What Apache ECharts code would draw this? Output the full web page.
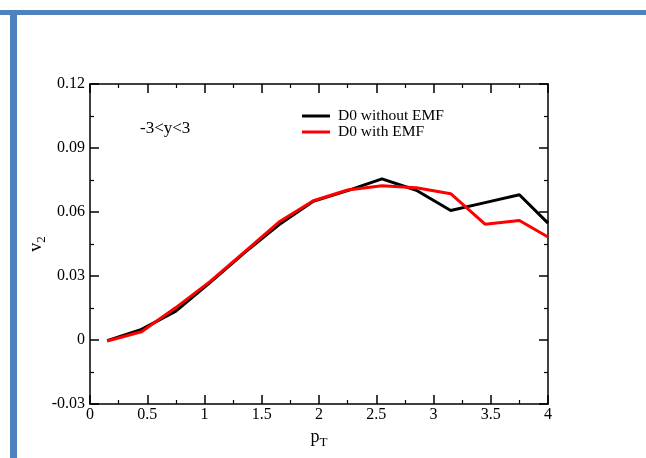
<!DOCTYPE html>
<html>
<head>
<meta charset="utf-8">
<script src="https://cdn.jsdelivr.net/npm/echarts@6/dist/echarts.min.js"></script>
<style>
  html, body { margin: 0; padding: 0; background: #ffffff; }
  #chart { width: 646px; height: 458px; }
</style>
</head>
<body>
<div id="chart"></div>
<script>
// Elliptic flow v2 of D0 versus transverse momentum
const pT = [0.15, 0.45, 0.75, 1.05, 1.35, 1.65, 1.95, 2.25, 2.55, 2.85, 3.15, 3.45, 3.75, 4.0];
const v2WithoutEMF = [-0.0003, 0.0050, 0.0135, 0.0270, 0.0410, 0.0540, 0.0650, 0.0700, 0.0755, 0.0702, 0.0607, 0.0644, 0.0681, 0.0548];
const v2WithEMF    = [-0.0005, 0.0039, 0.0152, 0.0275, 0.0413, 0.0553, 0.0653, 0.0703, 0.0723, 0.0714, 0.0686, 0.0543, 0.0560, 0.0483];
const xTicks = [0, 0.5, 1, 1.5, 2, 2.5, 3, 3.5, 4];
const yTicks = [-0.03, 0, 0.03, 0.06, 0.09, 0.12];
const seriesNames = ['D0 without EMF', 'D0 with EMF'];
const rapidityLabel = '-3<y<3';

const serif = '"Liberation Serif", "DejaVu Serif", serif';
const chart = echarts.init(document.getElementById('chart'), null, { renderer: 'canvas' });

function pairs(xs, ys) { return xs.map((x, i) => [x, ys[i]]); }

const tickStyle = { lineStyle: { color: '#000', width: 1.5 } };
const baseX = {
  type: 'value', min: xTicks[0], max: xTicks[xTicks.length - 1], interval: 0.5,
  axisLine: { show: true, onZero: false, lineStyle: { color: '#000', width: 1.5 } },
  axisTick: { show: true, inside: true, length: 9, ...tickStyle },
  minorTick: { show: true, splitNumber: 2, length: 4, lineStyle: { color: '#000', width: 1.2 } },
  splitLine: { show: false }
};
const baseY = {
  type: 'value', min: yTicks[0], max: yTicks[yTicks.length - 1], interval: 0.03,
  axisLine: { show: true, onZero: false, lineStyle: { color: '#000', width: 1.5 } },
  axisTick: { show: true, inside: true, length: 9, ...tickStyle },
  minorTick: { show: true, splitNumber: 2, length: 4, lineStyle: { color: '#000', width: 1.2 } },
  splitLine: { show: false }
};

chart.setOption({
  animation: false,
  backgroundColor: '#ffffff',
  grid: { left: 90, right: 98, top: 84, bottom: 54 },
  xAxis: [
    {
      ...baseX, position: 'bottom',
      axisLabel: {
        show: true, color: '#000', fontFamily: serif, fontSize: 16, margin: 3,
        formatter: v => String(v)
      },
      name: 'p{sub|T}', nameLocation: 'middle', nameGap: 22, nameMoveOverlap: false,
      nameTextStyle: {
        color: '#000', fontFamily: serif, fontSize: 18,
        rich: { sub: { fontFamily: serif, fontSize: 13, color: '#000', padding: [10, 0, 0, 0] } }
      }
    },
    {
      ...baseX, position: 'top',
      axisLabel: { show: false }
    }
  ],
  yAxis: [
    {
      ...baseY, position: 'left',
      axisLabel: {
        show: true, color: '#000', fontFamily: serif, fontSize: 16, margin: 5,
        formatter: v => (Math.abs(v) < 1e-9 ? '0' : v.toFixed(2))
      },
      name: 'v{sub|2}', nameLocation: 'middle', nameGap: 42, nameRotate: 90, nameMoveOverlap: false,
      nameTextStyle: {
        color: '#000', fontFamily: serif, fontSize: 18,
        rich: { sub: { fontFamily: serif, fontSize: 13, color: '#000', padding: [10, 0, 0, 0] } }
      }
    },
    {
      ...baseY, position: 'right',
      axisLabel: { show: false }
    }
  ],
  legend: {
    orient: 'vertical', left: 302, top: 108, itemGap: 0, padding: 0,
    itemWidth: 28, itemHeight: 3, icon: 'rect',
    textStyle: { color: '#000', fontFamily: serif, fontSize: 15.5, padding: [0, 0, 0, 3], lineHeight: 15.6 },
    data: seriesNames
  },
  graphic: [
    // frame accents
    { type: 'rect', left: 0, top: 10, shape: { width: 646, height: 5 }, style: { fill: '#4F81BD' }, z: 100 },
    { type: 'rect', left: 10, top: 10, shape: { width: 7, height: 448 }, style: { fill: '#4F81BD' }, z: 100 },
    {
      type: 'text', left: 140, top: 120,
      style: { text: rapidityLabel, fill: '#000', font: '17px ' + serif }
    }
  ],
  series: [
    {
      name: seriesNames[0], type: 'line', xAxisIndex: 0, yAxisIndex: 0,
      data: pairs(pT, v2WithoutEMF), symbol: 'none', clip: true,
      lineStyle: { color: '#000000', width: 3 }, itemStyle: { color: '#000000' }, z: 2
    },
    {
      name: seriesNames[1], type: 'line', xAxisIndex: 0, yAxisIndex: 0,
      data: pairs(pT, v2WithEMF), symbol: 'none', clip: true,
      lineStyle: { color: '#ff0000', width: 3 }, itemStyle: { color: '#ff0000' }, z: 3
    }
  ]
});
</script>
</body>
</html>
